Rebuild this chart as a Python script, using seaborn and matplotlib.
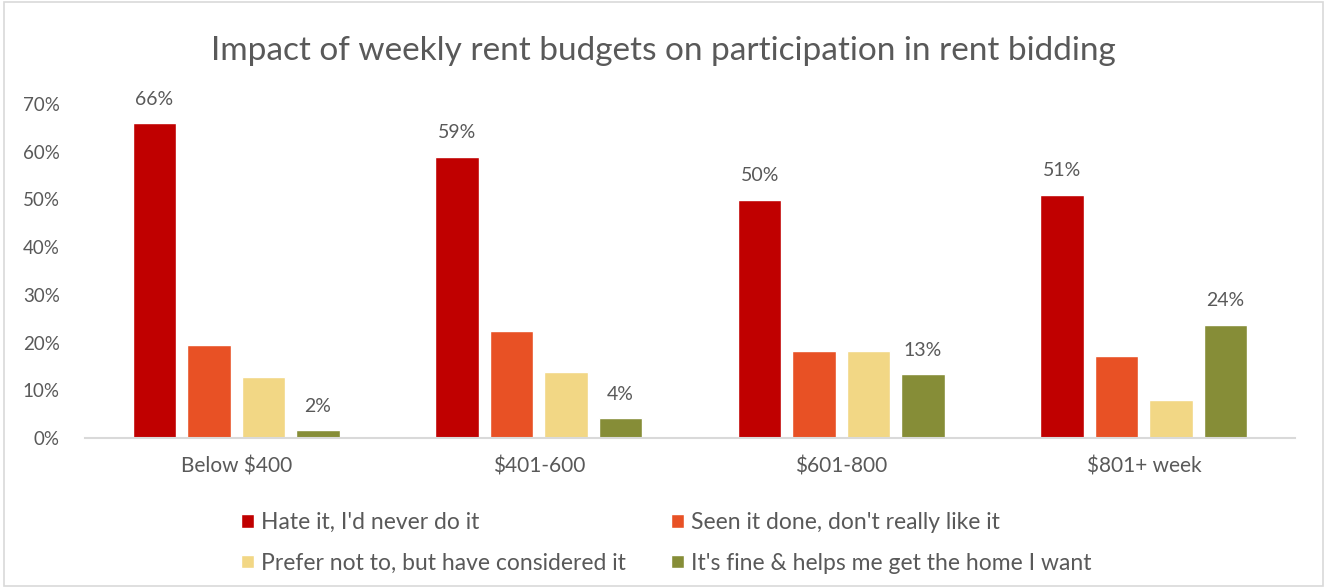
import pandas as pd
import matplotlib.pyplot as plt
import seaborn as sns
from matplotlib.patches import Rectangle

# data
budgets = ["Below $400", "$401-600", "$601-800", "$801+ week"]
responses = [
    "Hate it, I'd never do it",
    "Seen it done, don't really like it",
    "Prefer not to, but have considered it",
    "It's fine & helps me get the home I want",
]
hate = [0.66, 0.59, 0.50, 0.51]
seen = [0.195, 0.225, 0.183, 0.173]
prefer_not = [0.129, 0.139, 0.183, 0.080]
fine = [0.017, 0.042, 0.134, 0.238]
colors = ["#C00000", "#E85125", "#F2D785", "#868D37"]

rows = []
for resp, vals in zip(responses, [hate, seen, prefer_not, fine]):
    for b, v in zip(budgets, vals):
        rows.append({"Budget": b, "Response": resp, "Share": v})
df = pd.DataFrame(rows)

sns.set_style("white")
plt.rcParams["font.family"] = ["Lato", "DejaVu Sans"]

fig = plt.figure(figsize=(13.27, 5.88), dpi=100)
ax = fig.add_axes([0.064, 0.255, 0.912, 0.568])

sns.barplot(data=df, x="Budget", y="Share", hue="Response", order=budgets,
            hue_order=responses, palette=colors, width=0.72, gap=0.2,
            saturation=1, ax=ax, legend=True)

# value labels only on first and last series
for i, cont in enumerate(ax.containers):
    if i in (0, 3):
        ax.bar_label(cont, labels=[f"{v:.0%}" for v in cont.datavalues],
                     padding=11, fontsize=14, color="#595959")

ax.set_ylim(0, 0.70)
ax.set_yticks([i / 10 for i in range(8)])
ax.set_yticklabels([f"{i * 10}%" for i in range(8)])
ax.set_xlim(-0.5, 3.5)
ax.set_xlabel("")
ax.set_ylabel("")
ax.tick_params(axis="both", colors="#595959", length=0)
ax.tick_params(axis="x", pad=13, labelsize=15)
ax.tick_params(axis="y", pad=18, labelsize=13.5)
for s in ["top", "right", "left"]:
    ax.spines[s].set_visible(False)
ax.spines["bottom"].set_color("#D9D9D9")
ax.spines["bottom"].set_linewidth(1.5)

# legend filled row by row, like the original
handles, labels = ax.get_legend_handles_labels()
order = [0, 2, 1, 3]
ax.legend([handles[k] for k in order], [labels[k] for k in order],
          loc="upper left", bbox_to_anchor=(0.112, -0.16), ncol=2,
          frameon=False, fontsize=16.5, labelcolor="#595959",
          handlelength=0.55, handleheight=0.55, handletextpad=0.3,
          columnspacing=2.0, labelspacing=0.85)

fig.suptitle("Impact of weekly rent budgets on participation in rent bidding",
             y=0.938, fontsize=24, color="#595959")

fig.patches.append(Rectangle((0.003, 0.003), 0.994, 0.994, transform=fig.transFigure,
                             fill=False, edgecolor="#D9D9D9", linewidth=1.2))

fig.savefig("out.png", dpi=100)
